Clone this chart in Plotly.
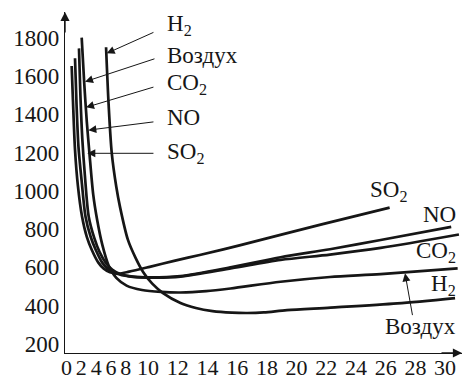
import plotly.graph_objects as go

# --- data -------------------------------------------------------------------
SO2_X = [0.52, 0.62, 0.78, 1.0, 1.33, 1.7, 2.1, 2.6, 3.0, 3.5, 4.2, 5.0, 6.6, 8.5, 10.5, 13.6, 20.0, 25.3]
SO2_Y = [1652, 1470, 1215, 1030, 865, 760, 690, 625, 595, 575, 568, 578, 603, 634, 665, 715, 825, 912]

NO_X = [0.78, 0.9, 1.05, 1.3, 1.6, 2.0, 2.4, 2.9, 3.4, 4.0, 5.0, 6.5, 9.0, 13.0, 16.8, 20.65, 24.6, 30.1]
NO_Y = [1692, 1450, 1230, 1050, 865, 760, 691, 625, 590, 568, 553, 548, 555, 602, 653, 695, 743, 812]

CO2_X = [1.09, 1.2, 1.35, 1.55, 1.85, 2.3, 2.7, 3.2, 3.7, 4.3, 5.3, 7.0, 9.0, 13.0, 16.8, 20.65, 24.6, 30.7]
CO2_Y = [1744, 1500, 1270, 1080, 865, 750, 680, 622, 588, 566, 552, 547, 552, 596, 639, 667, 702, 772]

AIR_X = [1.3, 1.5, 1.7, 1.9, 2.2, 2.5, 2.9, 3.4, 4.0, 4.8, 6.0, 7.5, 9.0, 11.0, 12.9, 16.8, 20.65, 24.6, 30.6]
AIR_Y = [1800, 1560, 1360, 1200, 980, 850, 720, 610, 545, 505, 482, 472, 469, 476, 490, 525, 550, 565, 595]

H2_X = [3.2, 3.4, 3.64, 4.0, 4.29, 4.9, 5.5, 6.1, 6.8, 7.64, 9.0, 10.2, 11.5, 13.0, 14.2, 15.5, 17.3, 20.7, 25.9, 30.4]
H2_Y = [1750, 1450, 1200, 1020, 915, 745, 650, 575, 515, 466, 414, 388, 372, 364, 362, 365, 377, 390, 412, 440]

Y_TICKS = [200, 400, 600, 800, 1000, 1200, 1400, 1600, 1800]
X_TICK_LABELS = ["0", "2", "4", "6", "8", "10", "12", "14", "16",
                 "18", "20", "22", "24", "26", "28", "30"]

# --- layout constants -------------------------------------------------------
INK = "#161616"
FONT = "Liberation Serif, Times New Roman, serif"
X_RANGE = [0, 30.94]
Y_RANGE = [153, 1934]
PX_PER_UNIT = 397 / (X_RANGE[1] - X_RANGE[0])

# tick labels in the reference are packed side by side, not on a linear grid
CHAR_PITCH = 14.85
start_px = -6.0
x_tickvals = []
for lab in X_TICK_LABELS:
    w = CHAR_PITCH * len(lab)
    x_tickvals.append((start_px + w / 2) / PX_PER_UNIT)
    start_px += w

fig = go.Figure()
for xs, ys in [(SO2_X, SO2_Y), (NO_X, NO_Y), (CO2_X, CO2_Y), (AIR_X, AIR_Y), (H2_X, H2_Y)]:
    fig.add_trace(go.Scatter(
        x=xs, y=ys, mode="lines",
        line=dict(color=INK, width=2.7, shape="spline", smoothing=0.8),
        hoverinfo="skip", showlegend=False,
    ))

ann = []
# axis arrows
ann.append(dict(xref="paper", yref="paper", x=0, y=1.0, ax=0, ay=22, text="",
                showarrow=True, arrowhead=2, arrowsize=1.3, arrowwidth=1.4, arrowcolor=INK))
ann.append(dict(xref="paper", yref="paper", x=1.0, y=0, ax=-22, ay=0, text="",
                showarrow=True, arrowhead=2, arrowsize=1.3, arrowwidth=1.4, arrowcolor=INK))

# top-left labels with leader arrows
left_labels = [
    ("H<sub>2</sub>", 1868, 3.25, 1718, 7.01, 1831),
    ("Воздух", 1709, 1.56, 1570, 7.09, 1692),
    ("CO<sub>2</sub>", 1558, 1.64, 1436, 7.01, 1544),
    ("NO", 1385, 1.82, 1317, 7.01, 1361),
    ("SO<sub>2</sub>", 1195, 1.74, 1196, 7.01, 1196),
]
for text, ty, tx_, tipy, tailx, taily in left_labels:
    ann.append(dict(x=tx_, y=tipy, ax=tailx, ay=taily, axref="x", ayref="y",
                    text="", showarrow=True, arrowhead=2, arrowsize=1.6,
                    arrowwidth=1.0, arrowcolor=INK))
    ann.append(dict(x=7.8, y=ty, text=text, showarrow=False, xanchor="left",
                    yanchor="middle", font=dict(size=23, color=INK, family=FONT)))

# right-side labels
right_labels = [
    ("SO<sub>2</sub>", 25.2, 1000, "center"),
    ("NO", 30.65, 879, "right"),
    ("CO<sub>2</sub>", 30.65, 680, "right"),
    ("H<sub>2</sub>", 30.65, 510, "right"),
    ("Воздух", 30.65, 289, "right"),
]
for text, x, y, anchor in right_labels:
    ann.append(dict(x=x, y=y, text=text, showarrow=False, xanchor=anchor,
                    yanchor="middle", font=dict(size=23, color=INK, family=FONT)))
ann.append(dict(x=26.5, y=569, ax=27.1, ay=343, axref="x", ayref="y", text="",
                showarrow=True, arrowhead=2, arrowsize=1.6, arrowwidth=1.0,
                arrowcolor=INK))

fig.update_layout(
    width=464, height=381,
    margin=dict(l=65, r=2, t=12, b=28),
    paper_bgcolor="white", plot_bgcolor="white",
    font=dict(family=FONT, color=INK, size=23),
    xaxis=dict(range=X_RANGE, showgrid=False, zeroline=False, showline=True,
               linecolor=INK, linewidth=1.4, tickmode="array",
               tickvals=x_tickvals, ticktext=X_TICK_LABELS, tickangle=0,
               ticks="", automargin=False, ticklabelstandoff=-6,
               tickfont=dict(size=22, family=FONT, color=INK)),
    yaxis=dict(range=Y_RANGE, showgrid=False, zeroline=False, showline=True,
               linecolor=INK, linewidth=1.4, tickmode="array",
               tickvals=Y_TICKS, ticks="", automargin=False,
               tickfont=dict(size=23, family=FONT, color=INK)),
    annotations=ann,
)

# browser default body margin would shift the fixed-size figure
fig.write_html("out.html", config={"displayModeBar": False},
               post_script="document.body.style.margin='0px';")
